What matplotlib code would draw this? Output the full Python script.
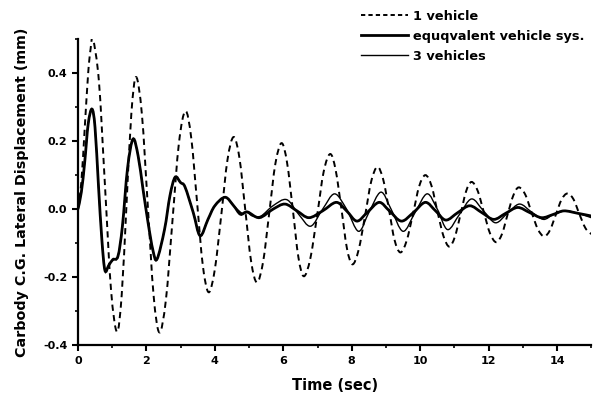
import matplotlib
matplotlib.use("Agg")
import numpy as np
import matplotlib.pyplot as plt
from matplotlib.lines import Line2D
from matplotlib.patches import PathPatch
from matplotlib.path import Path
from matplotlib.ticker import MultipleLocator

plt.rcParams["font.family"] = ["DejaVu Sans"]
plt.rcParams["font.weight"] = "bold"

# 1 vehicle (dashed)
one_t = [0.0, 0.1, 0.2, 0.3, 0.37, 0.44,
         0.615, 0.79, 0.965, 1.14,
         1.28, 1.42, 1.56, 1.70,
         1.87, 2.04, 2.21, 2.38,
         2.57, 2.76, 2.95, 3.14,
         3.31, 3.48, 3.65, 3.82,
         4.0, 4.19, 4.37, 4.55,
         4.72, 4.89, 5.06, 5.23,
         5.41, 5.59, 5.77, 5.95,
         6.11, 6.28, 6.44, 6.6,
         6.79, 6.99, 7.18, 7.37,
         7.53, 7.70, 7.86, 8.02,
         8.20, 8.39, 8.57, 8.75,
         8.92, 9.09, 9.25, 9.42,
         9.60, 9.79, 9.97, 10.15,
         10.33, 10.5, 10.68, 10.85,
         11.01, 11.18, 11.34, 11.5,
         11.68, 11.86, 12.04, 12.22,
         12.39, 12.55, 12.72, 12.88,
         13.07, 13.25, 13.44, 13.62,
         13.79, 13.96, 14.13, 14.3,
         14.48, 14.65, 14.83, 15.0]
one_y = [0.0, 0.08, 0.24, 0.40, 0.47, 0.50,
         0.374, 0.07, -0.234, -0.36,
         -0.251, 0.014, 0.279, 0.388,
         0.278, 0.013, -0.252, -0.362,
         -0.267, -0.037, 0.193, 0.288,
         0.210, 0.022, -0.166, -0.244,
         -0.177, -0.016, 0.145, 0.212,
         0.150, -0.002, -0.153, -0.215,
         -0.155, -0.011, 0.134, 0.194,
         0.137, -0.002, -0.140, -0.197,
         -0.145, -0.018, 0.110, 0.162,
         0.115, 0.0, -0.115, -0.162,
         -0.120, -0.019, 0.082, 0.124,
         0.087, -0.002, -0.090, -0.127,
         -0.094, -0.014, 0.067, 0.100,
         0.069, -0.005, -0.079, -0.110,
         -0.082, -0.015, 0.052, 0.080,
         0.054, -0.009, -0.071, -0.097,
         -0.073, -0.017, 0.040, 0.064,
         0.043, -0.008, -0.059, -0.080,
         -0.062, -0.017, 0.028, 0.046,
         0.029, -0.014, -0.056, -0.073]

# equivalent vehicle system (thick)
equ_t = [0.0, 0.1, 0.2, 0.3, 0.41, 0.5, 0.6, 0.7, 0.79, 0.9, 1.02, 1.17,
         1.3, 1.45, 1.61, 1.76, 1.9, 2.05, 2.19, 2.31, 2.53, 2.69, 2.84,
         3.0, 3.13, 3.37, 3.57, 3.8, 4.0, 4.3, 4.55, 4.75, 4.95, 5.3,
         5.7, 6.05, 6.4, 6.75, 7.15, 7.55, 7.85, 8.15, 8.45, 8.8, 9.1,
         9.45, 9.8, 10.15, 10.45, 10.75, 11.1, 11.45, 11.8, 12.15, 12.5,
         12.85, 13.2, 13.55, 13.9, 14.2, 14.6, 15.0]
equ_y = [0.0, 0.05, 0.14, 0.25, 0.294, 0.24, 0.07, -0.09, -0.18, -0.165,
         -0.148, -0.138, -0.05, 0.12, 0.206, 0.156, 0.06, -0.04, -0.12,
         -0.147, -0.06, 0.04, 0.094, 0.078, 0.065, -0.01, -0.078, -0.03,
         0.01, 0.035, 0.01, -0.015, -0.008, -0.025, 0.0, 0.015, -0.005,
         -0.025, -0.005, 0.02, -0.005, -0.035, -0.01, 0.02, -0.005, -0.035,
         -0.01, 0.02, -0.005, -0.032, -0.01, 0.01, -0.01, -0.03, -0.012,
         0.005, -0.01, -0.025, -0.015, -0.005, -0.012, -0.02]

# 3 vehicles (thin)
three_t = [0.0, 0.1, 0.2, 0.3, 0.41, 0.5, 0.6, 0.7, 0.79, 0.9, 1.02, 1.17,
           1.3, 1.45, 1.61, 1.76, 1.9, 2.05, 2.19, 2.31, 2.53, 2.69, 2.84,
           3.0, 3.13, 3.37, 3.57, 3.8, 4.0, 4.3, 4.6, 4.8, 4.95, 5.1, 5.35,
           5.7, 6.1, 6.45, 6.8, 7.15, 7.5, 7.85, 8.2, 8.5, 8.85, 9.15, 9.5,
           9.85, 10.2, 10.5, 10.8, 11.15, 11.5, 11.85, 12.2, 12.55, 12.9,
           13.25, 13.6, 13.9, 14.25, 14.6, 15.0]
three_y = [0.0, 0.05, 0.14, 0.25, 0.294, 0.24, 0.07, -0.09, -0.18, -0.165,
           -0.148, -0.138, -0.05, 0.12, 0.206, 0.156, 0.06, -0.04, -0.12,
           -0.147, -0.06, 0.04, 0.094, 0.078, 0.065, -0.01, -0.078, -0.03,
           0.01, 0.035, 0.005, -0.012, -0.01, -0.02, -0.02, 0.01, 0.028,
           -0.015, -0.05, 0.0, 0.045, 0.0, -0.065, -0.01, 0.05, 0.0, -0.065,
           -0.01, 0.045, 0.0, -0.06, -0.015, 0.03, -0.005, -0.04, -0.012,
           0.015, -0.008, -0.03, -0.015, -0.005, -0.012, -0.025]

x_ticks = [0, 2, 4, 6, 8, 10, 12, 14]
y_ticks = [-0.4, -0.2, 0.0, 0.2, 0.4]
y_tick_labels = ["-0.4", "-0.2", "0.0", "0.2", "0.4"]


def smooth_path(xs, ys):
    # Catmull-Rom through the read points, drawn as cubic Bezier segments
    pts = np.column_stack([xs, ys]).astype(float)
    n = len(pts)
    verts = [pts[0]]
    codes = [Path.MOVETO]
    for i in range(n - 1):
        p0 = pts[i - 1] if i > 0 else pts[i]
        p1, p2 = pts[i], pts[i + 1]
        p3 = pts[i + 2] if i + 2 < n else pts[i + 1]
        verts += [p1 + (p2 - p0) / 6, p2 - (p3 - p1) / 6, p2]
        codes += [Path.CURVE4] * 3
    return Path(verts, codes)


fig = plt.figure(figsize=(6.04, 3.97), dpi=100)
ax = fig.add_axes([0.129, 0.13, 0.85, 0.772])

dash = (0, (3.2, 2.2))
ax.add_patch(PathPatch(smooth_path(one_t, one_y), fill=False, color="black", lw=1.4, ls=dash))
ax.add_patch(PathPatch(smooth_path(three_t, three_y), fill=False, color="black", lw=1.0))
ax.add_patch(PathPatch(smooth_path(equ_t, equ_y), fill=False, color="black", lw=2.0))

ax.set_xlim(0, 15)
ax.set_ylim(-0.4, 0.5)
ax.set_xticks(x_ticks)
ax.set_yticks(y_ticks)
ax.set_yticklabels(y_tick_labels)
ax.xaxis.set_minor_locator(MultipleLocator(1))
ax.yaxis.set_minor_locator(MultipleLocator(0.1))
ax.tick_params(which="major", direction="out", length=4, width=1.5, labelsize=8)
ax.tick_params(which="minor", direction="out", length=2.5, width=1.2)
for side in ("top", "right"):
    ax.spines[side].set_visible(False)
for side in ("left", "bottom"):
    ax.spines[side].set_linewidth(1.6)

ax.set_xlabel("Time (sec)", fontsize=10.5, fontweight="bold", labelpad=9)
ax.set_ylabel("Carbody C.G. Lateral Displacement (mm)", fontsize=10.3, fontweight="bold", labelpad=10)

handles = [
    Line2D([], [], color="black", lw=1.4, ls=(0, (2.2, 1.6))),
    Line2D([], [], color="black", lw=2.0),
    Line2D([], [], color="black", lw=1.0),
]
labels = ["1 vehicle", "equqvalent vehicle sys.", "3 vehicles"]
fig.legend(handles, labels, loc="upper left", bbox_to_anchor=(0.585, 0.995),
           frameon=False, fontsize=9.3, handlelength=3.6, handletextpad=0.4,
           labelspacing=0.55, borderaxespad=0.2)

fig.savefig("out.png", dpi=100)
